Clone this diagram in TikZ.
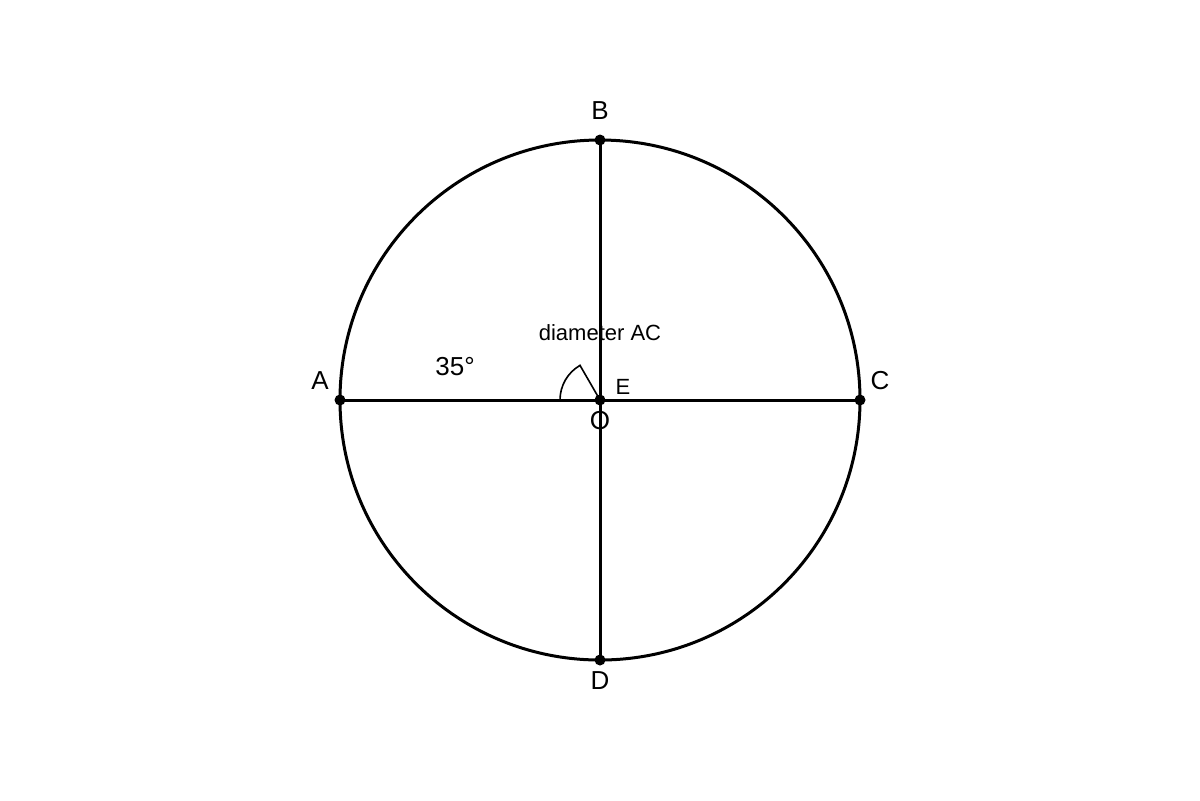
\documentclass[tikz,border=0pt]{standalone}
\usepackage{fontspec}
\setmainfont{Liberation Sans}
\begin{document}
\begin{tikzpicture}[x=0.5pt,y=-0.5pt,
  geom/.style={line width=1.5pt,black},
  dot/.style={circle,fill=black,inner sep=0pt,minimum size=5.5pt},
  lbl/.style={font=\fontsize{13pt}{15pt}\selectfont,inner sep=0pt},
  slbl/.style={font=\fontsize{11pt}{13pt}\selectfont,inner sep=0pt}]
\useasboundingbox (0,0) rectangle (1200,800);
\coordinate (O) at (600,400);
\coordinate (Am) at (560,400);
\node[dot] (A) at (340,400) {};
\node[dot] (B) at (600,140) {};
\node[dot] (C) at (860,400) {};
\node[dot] (D) at (600,660) {};
\draw[geom] (O) circle[radius=260];
\draw[geom] (A.center) -- (C.center);
\draw[geom] (B.center) -- (D.center);
\draw[line width=0.8pt] (Am) arc[start angle=180,end angle=240,radius=40] -- (O);
\node[dot] (Od) at (O) {};
\node[lbl] (lA) at (320,381) {A};
\node[lbl] (lB) at (600,111) {B};
\node[lbl] (lC) at (880,381) {C};
\node[lbl] (lD) at (600,681) {D};
\node[lbl] (lO) at (600,421) {O};
\node[slbl] (lE) at (623,387) {E};
\node[lbl] (lang) at (455,367) {35°};
\node[slbl] (ldiam) at (600,333) {diameter AC};
\end{tikzpicture}
\end{document}
